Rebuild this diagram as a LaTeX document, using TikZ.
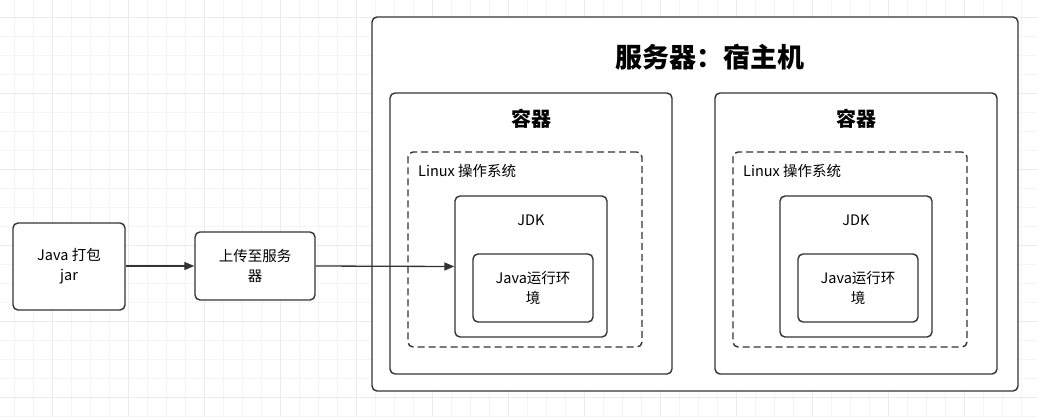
\documentclass[tikz,border=0pt]{standalone}
\usepackage{fontspec}
\setmainfont{Noto Sans CJK SC}
\usetikzlibrary{positioning,arrows.meta}

\begin{document}
\begin{tikzpicture}[x=1pt,y=-1pt,
  minorline/.style={black!4,line width=0.8pt},
  majorline/.style={black!8,line width=0.8pt},
  box/.style={draw=black!80,line width=1.4pt,rounded corners=5pt,fill=white,
    inner sep=0pt,align=center,font=\fontsize{14.5}{20}\selectfont},
  osbox/.style={draw=black!80,line width=1.4pt,rounded corners=5pt,
    dash pattern=on 7pt off 4pt,inner sep=0pt},
  flow/.style={draw=black!80,line width=1.3pt,-{Triangle[length=10pt,width=8pt]}},
  label/.style={inner sep=0pt,font=\fontsize{14.5}{20}\selectfont},
  title/.style={inner sep=0pt,font=\fontsize{20}{24}\selectfont\bfseries}]
\useasboundingbox (0,0) rectangle (1037,416);
% background grid
\foreach \gx in {14,33,...,1037} \draw[minorline] (\gx,0) -- (\gx,416);
\foreach \gy in {-2,17,...,416} \draw[minorline] (0,\gy) -- (1037,\gy);
\foreach \gx in {52,128,...,1037} \draw[majorline] (\gx,0) -- (\gx,416);
\foreach \gy in {17,93,...,416} \draw[majorline] (0,\gy) -- (1037,\gy);

\node[box,minimum width=112pt,minimum height=87pt] (jar) at (69,266.5) {Java 打包\\jar};
\node[box,minimum width=120pt,minimum height=68pt] (upload) at (255,266) {上传至服务\\器};

% server
\node[box,minimum width=646pt,minimum height=374pt] (host) at (695,204) {};
\node[title,font=\fontsize{27}{30}\selectfont\bfseries] (hosttitle) at (710,57) {服务器：宿主机};

% container 1
\node[box,minimum width=282pt,minimum height=281pt] (box1) at (531,233.5) {};
\node[title,below=17pt of box1.north] (box1title) {容器};
\node[osbox,minimum width=234pt,minimum height=195pt] (os1) at (525,249.5) {};
\node[label,anchor=west] (os1label) at (418,171) {Linux 操作系统};
\node[box,minimum width=152pt,minimum height=141pt] (jdk1) at (531,266.5) {};
\node[label,below=19pt of jdk1.north] (jdk1label) {JDK};
\node[box,minimum width=120pt,minimum height=68pt] (jre1) at (533,288) {Java运行环\\境};

% container 2
\node[box,minimum width=282pt,minimum height=281pt] (box2) at (856,233.5) {};
\node[title,below=17pt of box2.north] (box2title) {容器};
\node[osbox,minimum width=234pt,minimum height=195pt] (os2) at (850,249.5) {};
\node[label,anchor=west] (os2label) at (743,171) {Linux 操作系统};
\node[box,minimum width=152pt,minimum height=141pt] (jdk2) at (856,266.5) {};
\node[label,below=19pt of jdk2.north] (jdk2label) {JDK};
\node[box,minimum width=120pt,minimum height=68pt] (jre2) at (858,288) {Java运行环\\境};

\draw[flow] (jar.east |- upload) -- (upload.west);
\draw[flow] (upload.east) -- (jdk1.west);
\end{tikzpicture}
\end{document}
